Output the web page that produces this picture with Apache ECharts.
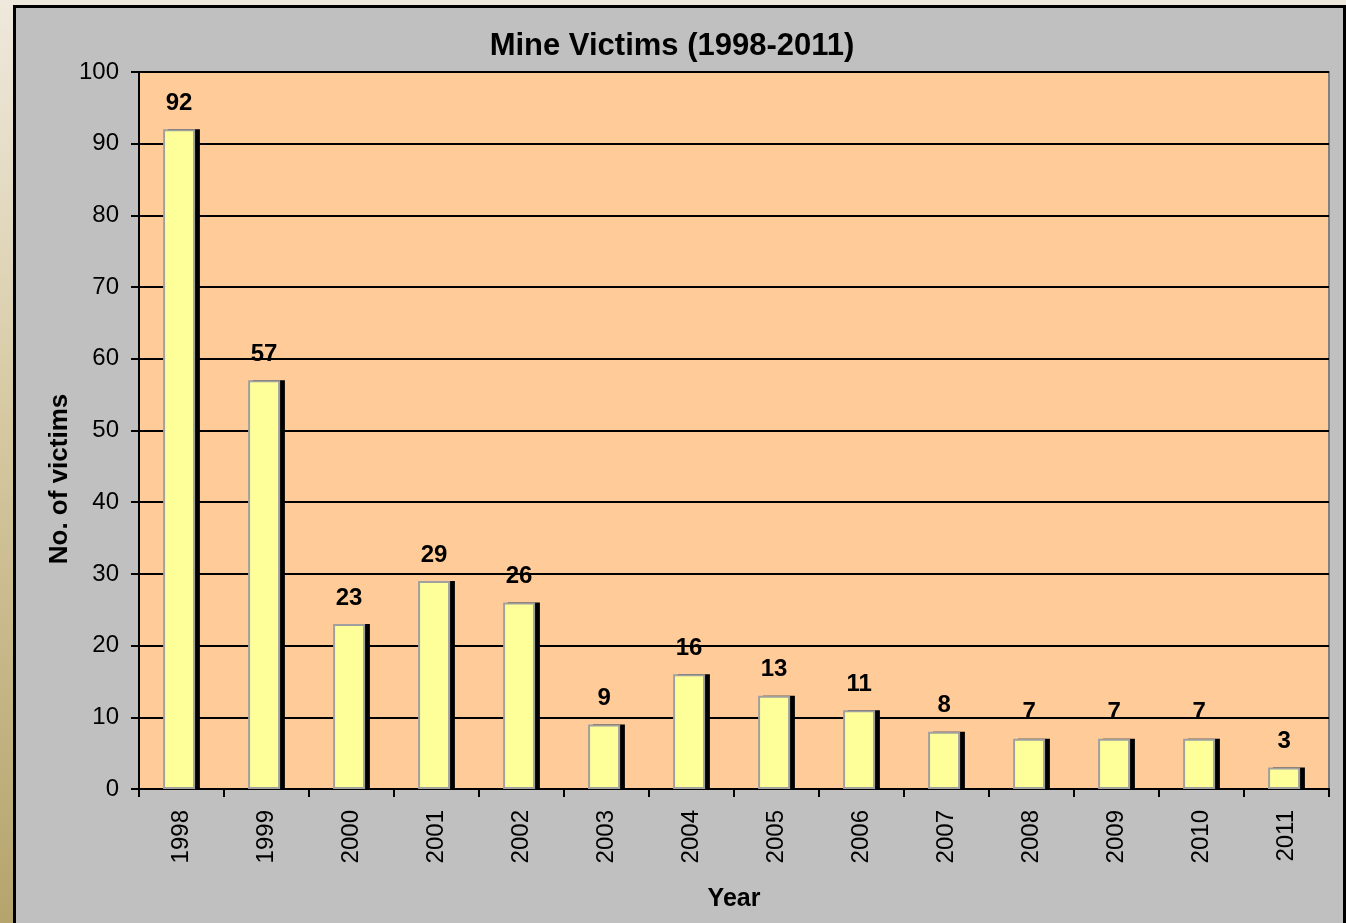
<!DOCTYPE html>
<html>
<head>
<meta charset="UTF-8">
<title>Mine Victims</title>
<script src="https://cdn.jsdelivr.net/npm/echarts@6/dist/echarts.min.js"></script>
<style>
  html, body { margin: 0; padding: 0; width: 1346px; height: 923px; overflow: hidden; }
  body { background: linear-gradient(180deg, #efe9dd 0%, #d6c9a2 45%, #b5a46c 100%); }
  #frame { position: absolute; left: 13px; top: 5px; width: 1327px; height: 930px;
           background: #c0c0c0; border: 3px solid #000; border-bottom: none; }
  #main { position: absolute; left: 0; top: 0; width: 1346px; height: 923px; }
</style>
</head>
<body>
<div id="frame"></div>
<div id="main"></div>
<script>
var years = ['1998', '1999', '2000', '2001', '2002', '2003', '2004',
             '2005', '2006', '2007', '2008', '2009', '2010', '2011'];
var victims = [92, 57, 23, 29, 26, 9, 16, 13, 11, 8, 7, 7, 7, 3];

var myChart = echarts.init(document.getElementById('main'));

var option = {
    backgroundColor: 'transparent',
    animation: false,
    textStyle: { fontFamily: 'Liberation Sans, Arial, sans-serif' },
    title: {
        text: 'Mine Victims (1998-2011)',
        left: 667,
        top: 26,
        textAlign: 'center',
        textStyle: { color: '#000', fontSize: 31, fontWeight: 'bold' }
    },
    grid: {
        left: 139, right: 17, top: 72, bottom: 134,
        show: true,
        backgroundColor: '#ffcc99',
        borderColor: '#808080',
        borderWidth: 2
    },
    xAxis: {
        type: 'category',
        data: years,
        name: 'Year',
        nameLocation: 'middle',
        nameGap: 98,
        nameTextStyle: { color: '#000', fontSize: 25, fontWeight: 'bold' },
        axisLine: { lineStyle: { color: '#000', width: 2 } },
        axisTick: { show: true, inside: false, length: 8, alignWithLabel: false,
                    lineStyle: { color: '#000', width: 2 } },
        axisLabel: { rotate: 90, margin: 21, color: '#000', fontSize: 24 }
    },
    yAxis: {
        type: 'value',
        min: 0, max: 100, interval: 10,
        axisLine: { show: true, lineStyle: { color: '#000', width: 2 } },
        axisTick: { show: true, inside: false, length: 8, lineStyle: { color: '#000', width: 2 } },
        axisLabel: { margin: 20, color: '#000', fontSize: 24 },
        splitLine: { show: true, lineStyle: { color: '#000', width: 2 } }
    },
    graphic: [{
        type: 'text',
        x: 60, y: 479,
        rotation: Math.PI / 2,
        style: {
            text: 'No. of victims',
            fill: '#000',
            font: 'bold 26px "Liberation Sans", Arial, sans-serif',
            textAlign: 'center',
            textVerticalAlign: 'middle'
        }
    }],
    series: [{
        name: 'Victims',
        type: 'bar',
        data: victims,
        barWidth: 32,
        barGap: '-85%',
        z: 3,
        itemStyle: {
            color: '#ffff99',
            borderColor: '#a0a0a0',
            borderWidth: 2
        },
        label: {
            show: true,
            position: 'top',
            distance: 14,
            color: '#000',
            fontSize: 24,
            fontWeight: 'bold'
        }
    }, {
        name: 'shadow',
        type: 'bar',
        data: victims,
        barWidth: 32,
        z: 2,
        silent: true,
        itemStyle: { color: '#000' }
    }]
};

myChart.setOption(option);
</script>
</body>
</html>
